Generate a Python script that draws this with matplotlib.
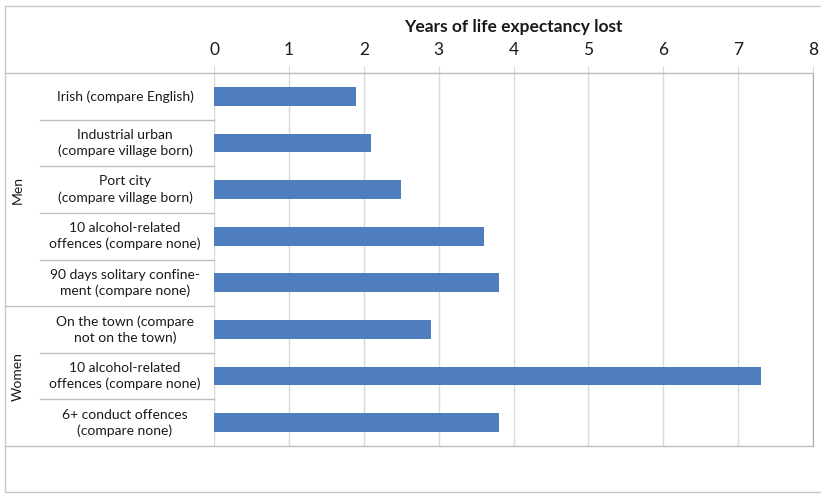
import matplotlib
matplotlib.use("Agg")
import matplotlib.pyplot as plt
import numpy as np

plt.rcParams['font.family'] = ['Lato', 'DejaVu Sans']

# data
labels = ["Irish (compare English)",
          "Industrial urban\n(compare village born)",
          "Port city\n(compare village born)",
          "10 alcohol-related\noffences (compare none)",
          "90 days solitary confine-\nment (compare none)",
          "On the town (compare\nnot on the town)",
          "10 alcohol-related\noffences (compare none)",
          "6+ conduct offences\n(compare none)"]
years_lost = [1.9, 2.1, 2.5, 3.6, 3.8, 2.9, 7.3, 3.8]
groups = ["Men", "Women"]
group_sizes = [5, 3]

bar_color = "#4F7EBE"
grid_color = "#D9D9D9"
line_color = "#BFBFBF"
text_color = "#1A1A1A"

fig = plt.figure(figsize=(8.21, 4.94), dpi=100)
ax = fig.add_axes([214/821, 1-446/494, (813-214)/821, (446-73)/494])

y = np.arange(len(labels))
ax.barh(y, years_lost, height=0.4, color=bar_color, zorder=3)
ax.set_ylim(len(labels)-0.5, -0.5)
ax.set_xlim(0, 8)
ax.set_xticks(range(0, 9))
ax.xaxis.tick_top()
ax.xaxis.set_label_position('top')
ax.set_xlabel("Years of life expectancy lost", fontsize=12.5, fontweight='bold', labelpad=7, color=text_color)
ax.tick_params(axis='x', labelsize=12.5, length=5, color=grid_color, pad=6, labelcolor=text_color)
ax.set_yticks([])
ax.grid(axis='x', color=grid_color, linewidth=1, zorder=0)
for s in ['left', 'bottom']:
    ax.spines[s].set_visible(False)
ax.spines['top'].set_color(line_color)
ax.spines['right'].set_color("#A6A6A6")

# category label area and group labels
tr = ax.get_yaxis_transform()
x_out = (5-214)/599
x_in = (40-214)/599
x_txt = (125-214)/599
for i, lab in enumerate(labels):
    ax.text(x_txt, i, lab, transform=tr, ha='center', va='center', fontsize=10, color=text_color, linespacing=1.35)

ax.plot([x_out, 1], [-0.5, -0.5], transform=tr, color=line_color, lw=1, clip_on=False)
ax.plot([x_out, 1], [len(labels)-0.5, len(labels)-0.5], transform=tr, color=line_color, lw=1, clip_on=False)
start = 0
for g, n in zip(groups, group_sizes):
    for k in range(start, start+n-1):
        ax.plot([x_in, 0], [k+0.5, k+0.5], transform=tr, color=line_color, lw=1, clip_on=False)
    if start+n < len(labels):
        ax.plot([x_out, 0], [start+n-0.5, start+n-0.5], transform=tr, color=line_color, lw=1, clip_on=False)
    ax.text((18-214)/599, start+(n-1)/2, g, transform=tr, rotation=90, ha='center', va='center', fontsize=10, color=text_color)
    start += n

# outer frame
fig.patches.append(plt.Rectangle((5/821, 1-492/494), 1, 486/494, transform=fig.transFigure,
                                 fill=False, edgecolor="#C8C8C8", lw=1))

fig.savefig("out.png", dpi=100)
